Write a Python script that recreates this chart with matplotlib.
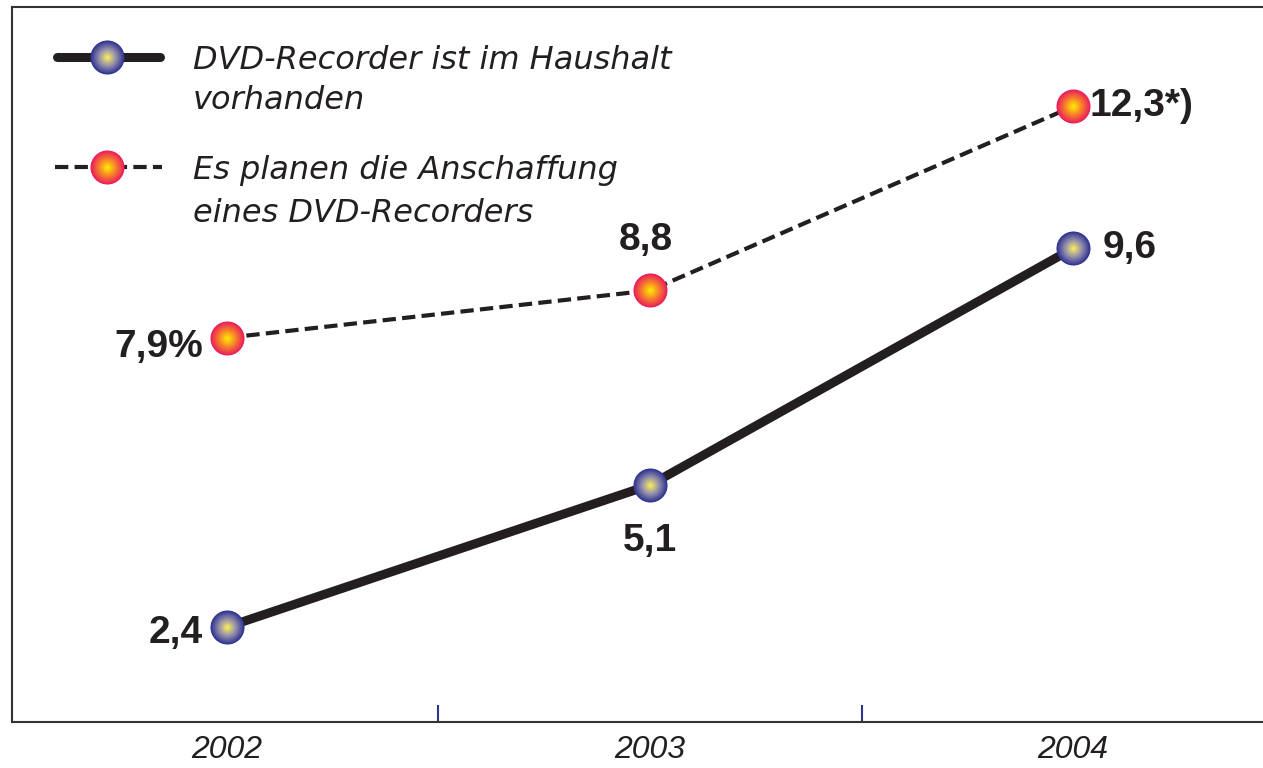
import numpy as np
import matplotlib
matplotlib.use("Agg")
import matplotlib.pyplot as plt
from matplotlib.colors import to_rgb

# Daten
jahre = [2002, 2003, 2004]
vorhanden = [2.4, 5.1, 9.6]
planen = [7.9, 8.8, 12.3]
labels_vorhanden = ["2,4", "5,1", "9,6"]
labels_planen = ["7,9%", "8,8", "12,3*)"]
legende_1 = ["DVD-Recorder ist im Haushalt", "vorhanden"]
legende_2 = ["Es planen die Anschaffung", "eines DVD-Recorders"]

textfarbe = "#231f20"
plt.rcParams['font.family'] = ['Liberation Sans', 'DejaVu Sans']

blau = ["#2e3192", "#9893ab", "#fff45a"]
rot = ["#ec1c5c", "#f7842a", "#fff200"]


def kugel(ax, x, y, farben, d=24.5, n=30, **kw):
    # Marker mit radialem Verlauf: Schichten von aussen nach innen
    c0, c1, c2 = [np.array(to_rgb(c)) for c in farben]
    for i in range(n):
        r = 1 - i / n
        if r > 0.5:
            t = (1 - r) / 0.5
            col = c0 * (1 - t) + c1 * t
        else:
            t = (0.5 - r) / 0.5
            col = c1 * (1 - t) + c2 * t
        ax.scatter(x, y, s=(d * r) ** 2, color=col, linewidths=0, zorder=5 + i * 0.01, **kw)


fig = plt.figure(figsize=(12.63, 7.68), dpi=100)
ax = fig.add_axes([12 / 1263, 46 / 768, 1251 / 1263, 715 / 768])

ax.plot(jahre, planen, color="#231f20", lw=3, ls=(0, (3.2, 1.5)), zorder=3)
ax.plot(jahre, vorhanden, color="#231f20", lw=6.5, solid_capstyle="butt", zorder=3)
kugel(ax, jahre, planen, rot)
kugel(ax, jahre, vorhanden, blau)

# Beschriftungen der Punkte
offs_v = [(-17, -4, "right"), (0, -40, "center"), (21, 0, "left")]
offs_p = [(-17, -6.5, "right"), (-3, 36, "center"), (12, 0, "left")]
for x, y, lab, (dx, dy, ha) in zip(jahre, vorhanden, labels_vorhanden, offs_v):
    ax.annotate(lab, (x, y), xytext=(dx, dy), textcoords="offset points", ha=ha, va="center",
                fontsize=28, fontweight="bold", color=textfarbe)
for x, y, lab, (dx, dy, ha) in zip(jahre, planen, labels_planen, offs_p):
    ax.annotate(lab, (x, y), xytext=(dx, dy), textcoords="offset points", ha=ha, va="center",
                fontsize=28, fontweight="bold", color=textfarbe)

# Legende (manuell)
W, H = 1251, 715
def fx(px):
    return (px - 12) / W
def fy(py):
    return (722 - py) / H

ax.plot([fx(57), fx(160)], [fy(57), fy(57)], transform=ax.transAxes, color="#231f20",
        lw=6.5, solid_capstyle="round", clip_on=False, zorder=3)
ax.plot([fx(55), fx(162)], [fy(167), fy(167)], transform=ax.transAxes, color="#231f20",
        lw=3, ls=(0, (3.2, 1.5)), clip_on=False, zorder=3)
kugel(ax, [fx(107)], [fy(57)], blau, transform=ax.transAxes, clip_on=False)
kugel(ax, [fx(107)], [fy(167)], rot, transform=ax.transAxes, clip_on=False)
for txt, py in zip(legende_1 + legende_2, [69, 109, 179, 222]):
    ax.text(fx(193), fy(py), txt, transform=ax.transAxes, fontsize=23, style="italic",
            family=["DejaVu Sans"], color=textfarbe, va="baseline", ha="left")

ax.set_xlim(2001.492, 2004.449)
ax.set_ylim(0.594, 14.19)
ax.set_yticks([])
ax.set_xticks(jahre)
ax.set_xticklabels([str(j) for j in jahre], fontsize=23, style="italic", color=textfarbe)
ax.tick_params(axis="x", which="major", length=0, pad=9)
ax.set_xticks([2002.5, 2003.5], minor=True)
ax.tick_params(axis="x", which="minor", direction="in", length=12, width=1.5, color="#2e3192")
for s in ["left", "bottom", "top"]:
    ax.spines[s].set_color("#333333")
    ax.spines[s].set_linewidth(1.5)
ax.spines["right"].set_visible(False)

fig.savefig("out.png", dpi=100)
